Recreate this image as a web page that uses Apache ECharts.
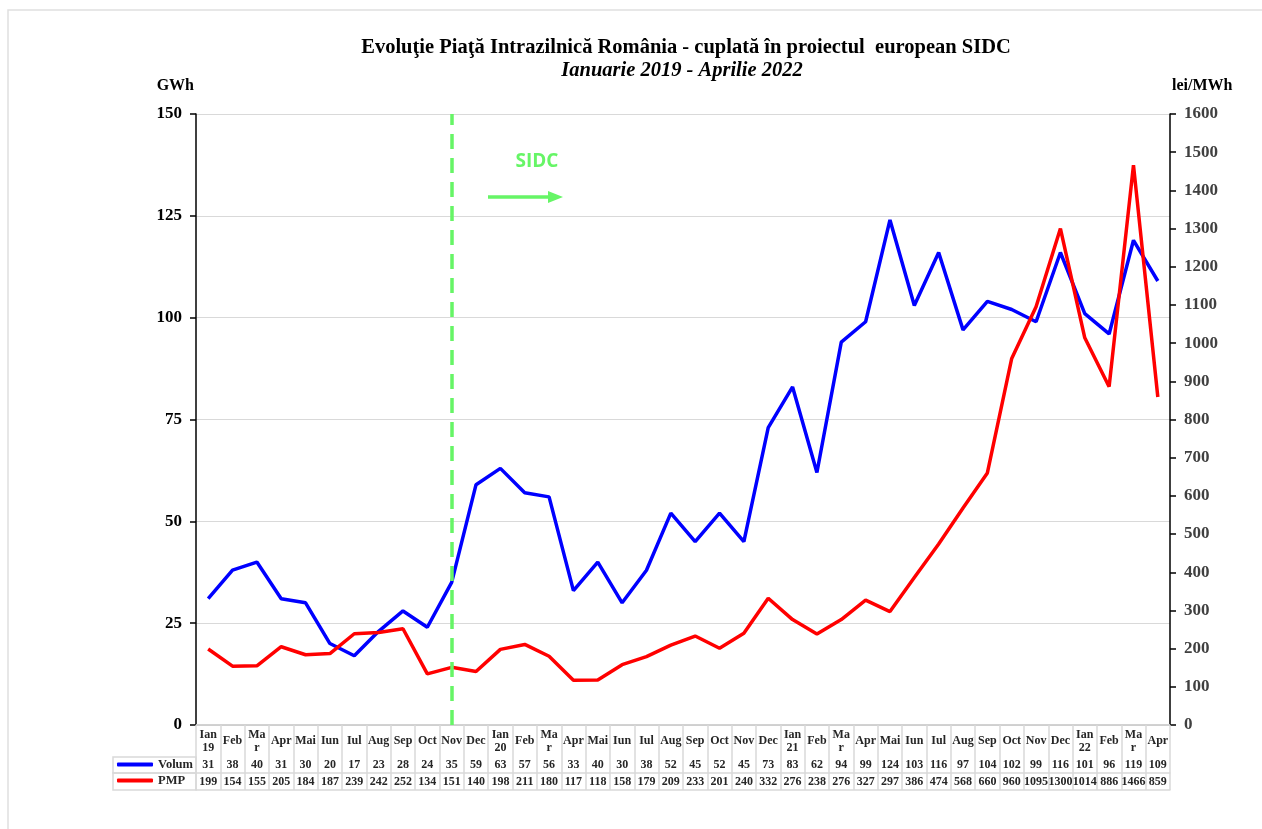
<!DOCTYPE html>
<html>
<head>
<meta charset="utf-8">
<style>
  html, body { margin: 0; padding: 0; background: #fff; }
  #chart { width: 1262px; height: 829px; }
</style>
<script src="https://cdn.jsdelivr.net/npm/echarts@6/dist/echarts.min.js"></script>
</head>
<body>
<div id="chart"></div>
<script>
// luni, asa cum apar in tabel
var categories = ['Ian\n19', 'Feb', 'Ma\nr', 'Apr', 'Mai', 'Iun', 'Iul', 'Aug', 'Sep', 'Oct', 'Nov', 'Dec',
  'Ian\n20', 'Feb', 'Ma\nr', 'Apr', 'Mai', 'Iun', 'Iul', 'Aug', 'Sep', 'Oct', 'Nov', 'Dec',
  'Ian\n21', 'Feb', 'Ma\nr', 'Apr', 'Mai', 'Iun', 'Iul', 'Aug', 'Sep', 'Oct', 'Nov', 'Dec',
  'Ian\n22', 'Feb', 'Ma\nr', 'Apr']
// volum GWh
var volum = [31, 38, 40, 31, 30, 20, 17, 23, 28, 24, 35, 59,
  63, 57, 56, 33, 40, 30, 38, 52, 45, 52, 45, 73,
  83, 62, 94, 99, 124, 103, 116, 97, 104, 102, 99, 116,
  101, 96, 119, 109]
// pret mediu ponderat lei/MWh
var pmp = [199, 154, 155, 205, 184, 187, 239, 242, 252, 134, 151, 140,
  198, 211, 180, 117, 118, 158, 179, 209, 233, 201, 240, 332,
  276, 238, 276, 327, 297, 386, 474, 568, 660, 960, 1095, 1300,
  1014, 886, 1466, 859]
var sidcIndex = 10 // Nov 2019

var serif = '"Liberation Serif", "Times New Roman", serif'
var cellLine = '#d9d9d9'
var tableText = '#262626'

var tableRow = function (data, offset, margin) {
  return {
    type: 'category',
    gridIndex: 0,
    position: 'bottom',
    offset: offset,
    data: data,
    boundaryGap: true,
    axisLine: { show: true, lineStyle: { color: cellLine, width: 1.5 } },
    axisTick: { show: false },
    axisLabel: {
      show: margin != null,
      interval: 0,
      margin: margin || 0,
      verticalAlign: 'middle',
      fontFamily: serif,
      fontWeight: 'bold',
      fontSize: 12,
      color: tableText
    }
  }
}

var myChart = echarts.init(document.getElementById('chart'))
var option = {
  animation: false,
  backgroundColor: '#fff',
  title: [{
    text: 'Evoluţie Piaţă Intrazilnică România - cuplată în proiectul  european SIDC',
    left: 681,
    top: 32,
    textAlign: 'center',
    textStyle: { fontFamily: serif, fontWeight: 'bold', fontSize: 20.5, color: '#000' }
  }, {
    text: 'Ianuarie 2019 - Aprilie 2022',
    left: 677,
    top: 56,
    textAlign: 'center',
    textStyle: { fontFamily: serif, fontWeight: 'bold', fontStyle: 'italic', fontSize: 20.5, color: '#000' }
  }],
  legend: {
    orient: 'vertical',
    left: 117,
    top: 758,
    padding: 0,
    itemGap: 3,
    itemWidth: 36,
    itemHeight: 4,
    data: [{ name: 'Volum', icon: 'roundRect' }, { name: 'PMP', icon: 'roundRect' }],
    textStyle: { fontFamily: serif, fontWeight: 'bold', fontSize: 12.5, color: tableText, lineHeight: 13, padding: [0, 0, 0, 0] }
  },
  grid: { left: 196, right: 92, top: 114, bottom: 104, containLabel: false },
  xAxis: [
    {
      type: 'category',
      data: categories,
      boundaryGap: true,
      axisLine: { show: true, lineStyle: { color: '#a6a6a6', width: 1.5 } },
      axisTick: { show: true, interval: 0, length: 65, lineStyle: { color: cellLine, width: 1.5 } },
      axisLabel: {
        interval: 0,
        margin: 16,
        verticalAlign: 'middle',
        lineHeight: 13,
        fontFamily: serif,
        fontWeight: 'bold',
        fontSize: 12,
        color: tableText
      }
    },
    tableRow(volum.map(String), 32, 8),
    tableRow(pmp.map(String), 48, 9),
    tableRow(pmp.map(String), 65, null)
  ],
  yAxis: [
    {
      type: 'value',
      min: 0,
      max: 150,
      interval: 25,
      name: 'GWh',
      nameGap: 20,
      nameTextStyle: { fontFamily: serif, fontWeight: 'bold', fontSize: 16, color: '#000', align: 'right', padding: [0, 2, 0, 0] },
      axisLine: { show: true, lineStyle: { color: '#000', width: 1.5 } },
      axisTick: { show: true, length: 6, lineStyle: { color: '#000', width: 1.5 } },
      axisLabel: { margin: 14, fontFamily: serif, fontWeight: 'bold', fontSize: 17, color: '#000' },
      splitLine: { show: true, lineStyle: { color: cellLine, width: 1 } }
    },
    {
      type: 'value',
      min: 0,
      max: 1600,
      interval: 100,
      name: 'lei/MWh',
      nameGap: 20,
      nameTextStyle: { fontFamily: serif, fontWeight: 'bold', fontSize: 16, color: '#000', align: 'left', padding: [0, 0, 0, 2] },
      axisLine: { show: true, lineStyle: { color: '#000', width: 1.5 } },
      axisTick: { show: true, length: 6, lineStyle: { color: '#000', width: 1.5 } },
      axisLabel: {
        margin: 14,
        fontFamily: serif,
        fontWeight: 'bold',
        fontSize: 17,
        color: '#404040',
        formatter: function (v) { return String(v) }
      },
      splitLine: { show: false }
    }
  ],
  series: [
    {
      name: 'Volum',
      type: 'line',
      xAxisIndex: 0,
      yAxisIndex: 0,
      data: volum,
      symbol: 'none',
      itemStyle: { color: '#0000ff' },
      lineStyle: { color: '#0000ff', width: 3.5 },
      markLine: {
        silent: true,
        symbol: 'none',
        label: { show: false },
        lineStyle: { color: '#66f566', width: 3.5, type: [15, 9] },
        data: [{ xAxis: sidcIndex }]
      }
    },
    {
      name: 'PMP',
      type: 'line',
      xAxisIndex: 0,
      yAxisIndex: 1,
      data: pmp,
      symbol: 'none',
      itemStyle: { color: '#ff0000' },
      lineStyle: { color: '#ff0000', width: 3.5 }
    }
  ],
  graphic: [
    // chenarul graficului
    { type: 'rect', shape: { x: 8, y: 10, width: 1400, height: 1000 }, style: { fill: null, stroke: '#e0e0e0', lineWidth: 1.5 }, silent: true },
    // celulele legendei din tabel
    { type: 'rect', shape: { x: 113, y: 757, width: 83, height: 16 }, style: { fill: null, stroke: cellLine, lineWidth: 1.5 }, silent: true },
    { type: 'rect', shape: { x: 113, y: 773, width: 83, height: 17 }, style: { fill: null, stroke: cellLine, lineWidth: 1.5 }, silent: true },
    // adnotare SIDC
    { type: 'text', x: 537, y: 162, style: { text: 'SIDC', fill: '#66f566', font: 'bold 19px "Open Sans", "DejaVu Sans", sans-serif', textAlign: 'center', textVerticalAlign: 'middle' } },
    { type: 'line', shape: { x1: 488, y1: 197, x2: 550, y2: 197 }, style: { stroke: '#66f566', lineWidth: 3.5 } },
    { type: 'polygon', shape: { points: [[548, 191], [563, 197], [548, 203]] }, style: { fill: '#66f566' } }
  ]
}
myChart.setOption(option)
window.addEventListener('resize', function () {
  if (myChart) {
    myChart.resize()
  }
})
</script>
</body>
</html>
